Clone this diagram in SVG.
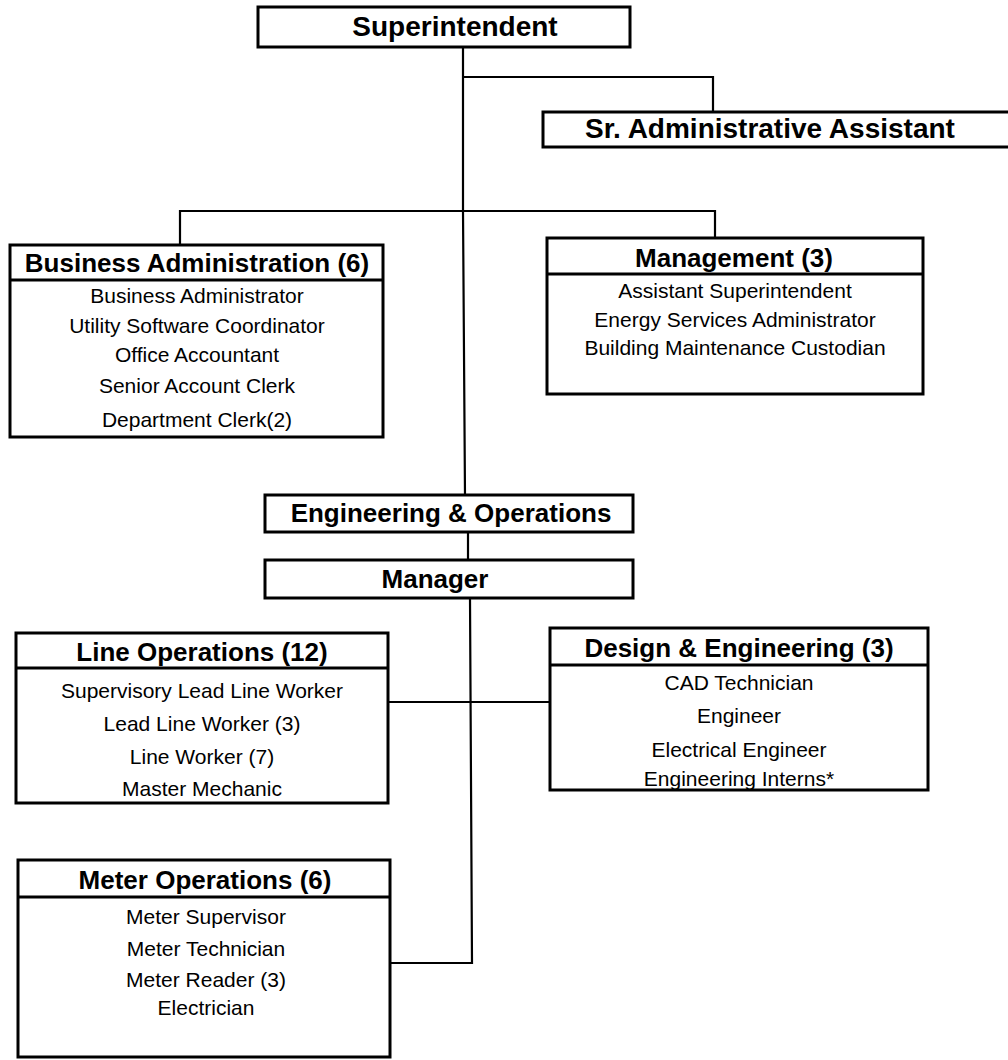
<svg xmlns="http://www.w3.org/2000/svg" width="1008" height="1060" viewBox="0 0 1008 1060">
<style>
.box{fill:#fff;stroke:#000;stroke-width:3}
.sep{stroke:#000;stroke-width:3}
.con{fill:none;stroke:#000;stroke-width:2.2}
.h{font-family:"Liberation Sans",Arial,sans-serif;font-weight:bold;font-size:26px;text-anchor:middle;fill:#000}
.big{font-size:28px}
.i{font-family:"Liberation Sans",Arial,sans-serif;font-size:21px;text-anchor:middle;fill:#000}
</style>
<rect width="1008" height="1060" fill="#fff"/>
<g id="connectors">
<polyline class="con" points="463,47 463,211 465,495"/>
<polyline class="con" points="463,77 713,77 713,112"/>
<polyline class="con" points="180,245 180,211 715,211 715,238"/>
<line class="con" x1="468" y1="532" x2="468" y2="560"/>
<polyline class="con" points="470,598 472,963 390,963"/>
<line class="con" x1="388" y1="702" x2="550" y2="702"/>
</g>
<g id="superintendent">
<rect class="box" x="258" y="7" width="372" height="40"/>
<text class="h big" x="455" y="36">Superintendent</text>
</g>
<g id="sr-admin-assistant">
<rect class="box" x="543" y="112" width="470" height="35"/>
<text class="h big" x="770" y="138">Sr. Administrative Assistant</text>
</g>
<g id="business-administration">
<rect class="box" x="10" y="245" width="373" height="192"/>
<line class="sep" x1="10" y1="280" x2="383" y2="280"/>
<text class="h" x="197" y="272">Business Administration (6)</text>
<text class="i" x="197" y="303">Business Administrator</text>
<text class="i" x="197" y="333">Utility Software Coordinator</text>
<text class="i" x="197" y="362">Office Accountant</text>
<text class="i" x="197" y="393">Senior Account Clerk</text>
<text class="i" x="197" y="427">Department Clerk(2)</text>
</g>
<g id="management">
<rect class="box" x="547" y="238" width="376" height="156"/>
<line class="sep" x1="547" y1="274" x2="923" y2="274"/>
<text class="h" x="734" y="267">Management (3)</text>
<text class="i" x="735" y="298">Assistant Superintendent</text>
<text class="i" x="735" y="327">Energy Services Administrator</text>
<text class="i" x="735" y="355">Building Maintenance Custodian</text>
</g>
<g id="engineering-operations">
<rect class="box" x="265" y="495" width="368" height="37"/>
<text class="h" x="451" y="522">Engineering &amp; Operations</text>
</g>
<g id="manager">
<rect class="box" x="265" y="560" width="368" height="38"/>
<text class="h" x="435" y="588">Manager</text>
</g>
<g id="line-operations">
<rect class="box" x="16" y="633" width="372" height="170"/>
<line class="sep" x1="16" y1="668" x2="388" y2="668"/>
<text class="h" x="202" y="661">Line Operations (12)</text>
<text class="i" x="202" y="698">Supervisory Lead Line Worker</text>
<text class="i" x="202" y="731">Lead Line Worker (3)</text>
<text class="i" x="202" y="764">Line Worker (7)</text>
<text class="i" x="202" y="796">Master Mechanic</text>
</g>
<g id="design-engineering">
<rect class="box" x="550" y="628" width="378" height="162"/>
<line class="sep" x1="550" y1="665" x2="928" y2="665"/>
<text class="h" x="739" y="657">Design &amp; Engineering (3)</text>
<text class="i" x="739" y="690">CAD Technician</text>
<text class="i" x="739" y="723">Engineer</text>
<text class="i" x="739" y="757">Electrical Engineer</text>
<text class="i" x="739" y="786">Engineering Interns*</text>
</g>
<g id="meter-operations">
<rect class="box" x="18" y="860" width="372" height="197"/>
<line class="sep" x1="18" y1="897" x2="390" y2="897"/>
<text class="h" x="205" y="889">Meter Operations (6)</text>
<text class="i" x="206" y="924">Meter Supervisor</text>
<text class="i" x="206" y="956">Meter Technician</text>
<text class="i" x="206" y="987">Meter Reader (3)</text>
<text class="i" x="206" y="1015">Electrician</text>
</g>
</svg>
